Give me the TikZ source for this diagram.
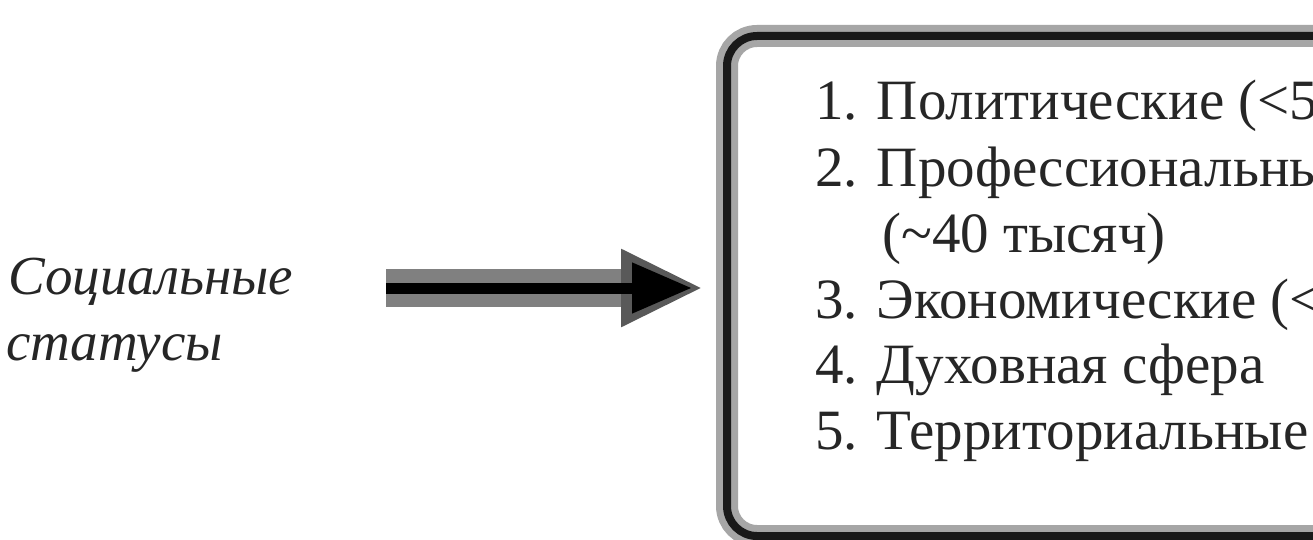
\documentclass[tikz,border=0pt]{standalone}
\usepackage{fontspec}
\setmainfont{Liberation Serif}
\usetikzlibrary{arrows.meta}
\tikzset{
  lbl/.style={inner sep=0pt, anchor=base west, text=black!85, font=\fontsize{57}{65}\selectfont},
  sidelbl/.style={inner sep=0pt, anchor=base west, text=black!85, font=\fontsize{55}{65}\selectfont\itshape},
  frame/.style={draw=black!90, line width=8pt, rounded corners=30pt,
    preaction={draw=black!35, line width=22pt},
    minimum width=700pt, minimum height=500pt, anchor=north west, inner sep=0pt},
  bigarrow/.style={black!50, line width=38pt, -{Triangle[length=82pt,width=72pt,color=black!65]}},
  coreline/.style={black, line width=11pt, -{Triangle[length=60pt,width=48pt]}}
}
\begin{document}
\begin{tikzpicture}[x=1pt,y=-1pt]
\useasboundingbox (0,0) rectangle (1313,540);
\clip (0,0) rectangle (1313,540);
\fill[white] (0,0) rectangle (1313,540);
% left label
\node[sidelbl] (s1) at (8,294) {Социальные};
\node[sidelbl] (s2) at (6,360) {статусы};
% frame
\node[frame] (box) at (723,32) {};
% arrow
\coordinate (a1) at (386,288);
\coordinate (a2) at (703,288);
\coordinate (a3) at (692,288);
\draw[bigarrow] (a1) -- (a2);
\draw[coreline] (a1) -- (a3);
% list
\node[lbl] (i1) at (815,120) {1. Политические (<5};
\node[lbl] (i2) at (815,186) {2. Профессиональные};
\node[lbl] (i2b) at (882,252) {(\textasciitilde 40 тысяч)};
\node[lbl] (i3) at (815,318) {3. Экономические (<};
\node[lbl] (i4) at (815,383) {4. Духовная сфера};
\node[lbl] (i5) at (815,449) {5. Территориальные};
\end{tikzpicture}
\end{document}
